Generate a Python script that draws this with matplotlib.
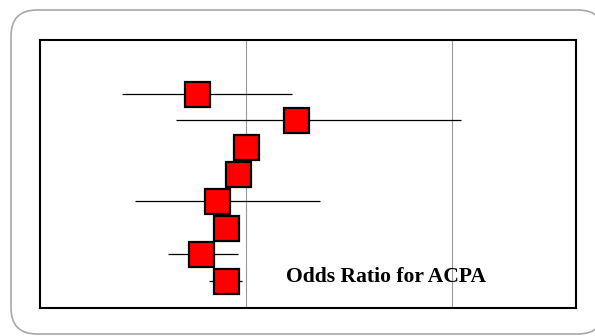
import matplotlib.pyplot as plt
from matplotlib.patches import FancyBboxPatch

# odds ratios with 95% CI, top row first
odds_ratio = [0.76, 1.24, 1.00, 0.96, 0.86, 0.90, 0.78, 0.90]
ci_low = [0.40, 0.66, 0.96, 0.92, 0.46, 0.86, 0.62, 0.82]
ci_high = [1.22, 2.04, 1.04, 1.00, 1.36, 0.94, 0.96, 0.98]
ref_lines = [1, 2]
title = "Odds Ratio for ACPA"

W, H = 595, 336
fig = plt.figure(figsize=(W / 100, H / 100), dpi=100)

# rounded frame around the whole panel, in pixel coordinates
bg = fig.add_axes([0, 0, 1, 1])
bg.set_xlim(0, W)
bg.set_ylim(H, 0)
bg.axis("off")
bg.add_patch(
    FancyBboxPatch(
        (11, 10), 593, 324,
        boxstyle="round,pad=0,rounding_size=26",
        facecolor="white", edgecolor="#a8a8a8", linewidth=1.2,
    )
)

ax = fig.add_axes([40 / W, (H - 308) / H, (576 - 40) / W, (308 - 40) / H])
rows = list(range(1, len(odds_ratio) + 1))

for x in ref_lines:
    ax.axvline(x, color="#999999", linewidth=0.8, zorder=1)

ax.hlines(rows, ci_low, ci_high, color="black", linewidth=0.9, zorder=2)
ax.plot(
    odds_ratio, rows, linestyle="none",
    marker="s", markersize=18, markerfacecolor="#ff0000",
    markeredgecolor="black", markeredgewidth=1.6, zorder=3,
)

ax.text(
    1.195, 7.85, title, fontsize=15.6, fontweight="bold",
    family="Liberation Serif", va="center", ha="left", zorder=4,
)

ax.set_xlim(0, 2.6)
ax.set_ylim(9, -1)
ax.set_xticks([])
ax.set_yticks([])
for s in ax.spines.values():
    s.set_linewidth(1.5)
    s.set_color("black")

fig.savefig("out.png", dpi=100)
